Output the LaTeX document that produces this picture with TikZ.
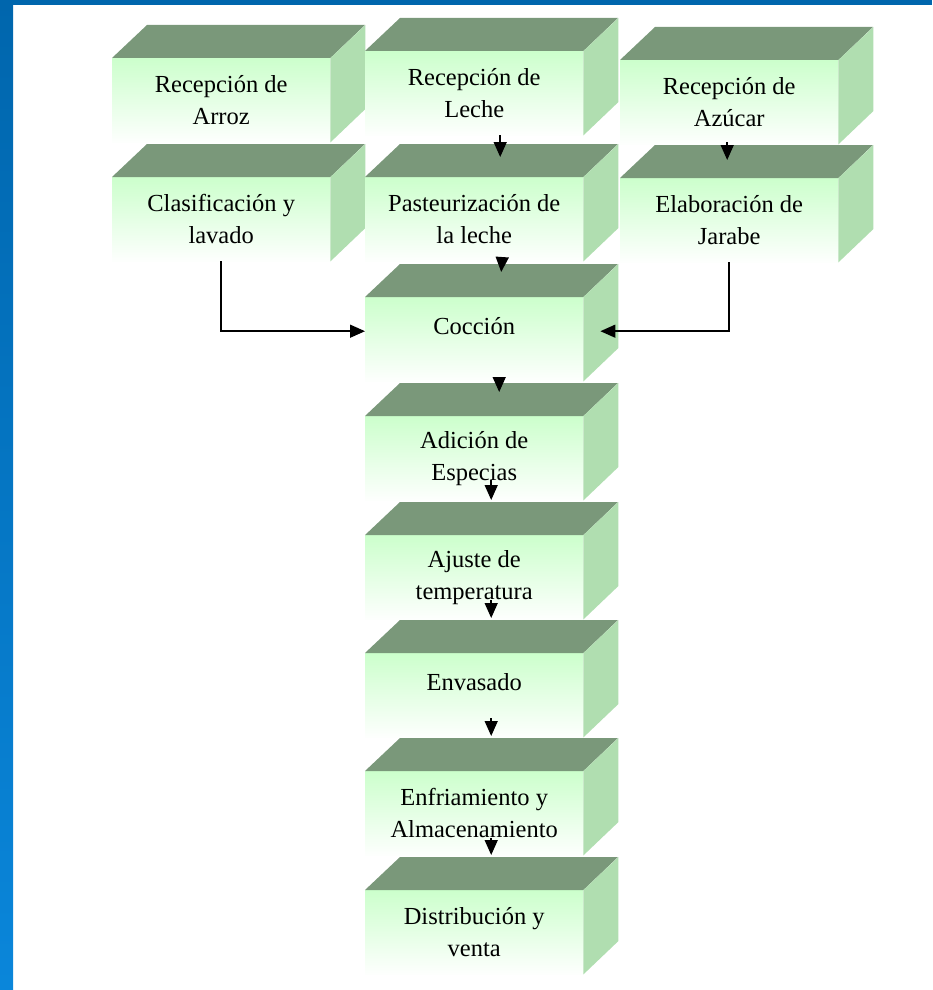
\documentclass[tikz,border=0pt]{standalone}
\usepackage{fontspec}
\setmainfont{Liberation Serif}
\usetikzlibrary{arrows.meta}
\definecolor{marcoazul}{RGB}{0,102,173}
\definecolor{marcoclaro}{RGB}{10,134,218}
\definecolor{techoverde}{RGB}{122,152,122}
\definecolor{ladoverde}{RGB}{176,222,176}
\definecolor{frenteverde}{RGB}{204,255,204}

\tikzset{
  caja/.style={rectangle, anchor=north west, minimum width=218pt, minimum height=84pt,
    inner sep=0pt, top color=frenteverde, bottom color=white!97!frenteverde,
    align=center, font=\fontsize{24.5}{32}\selectfont},
  unalinea/.style={text depth=26pt},
  techo/.style={fill=techoverde},
  lado/.style={fill=ladoverde},
  flecha/.style={line width=1.5pt, -{Triangle[length=15pt,width=13pt]}},
}

% caja en 3D: frente (nodo), techo y lado
\newcommand{\caja}[4][]{%
  \node[caja,#1] (#2) at (#3) {#4};
  \fill[techo] (#2.north west) -- ++(35,-33) -- ++(218,0) -- (#2.north east) -- cycle;
  \fill[lado] (#2.north east) -- ++(35,-33) -- ++(0,84) -- (#2.south east) -- cycle;
}

\begin{document}
\begin{tikzpicture}[x=1pt, y=-1pt]
  \useasboundingbox (0,0) rectangle (932,990);
  % marco azul
  \fill[marcoazul] (0,0) rectangle (932,5);
  \shade[top color=marcoazul, bottom color=marcoclaro] (0,0) rectangle (13,990);
  % recepcion
  \caja{arroz}{112,58}{Recepción de\\Arroz}
  \caja{leche}{365,51}{Recepción de\\Leche}
  \caja{azucar}{620,60}{Recepción de\\Azúcar}
  % preparacion
  \caja{lavado}{112,177}{Clasificación y\\lavado}
  \caja{pasteur}{365,177}{Pasteurización de\\la leche}
  \caja{jarabe}{620,178}{Elaboración de\\Jarabe}
  % proceso
  \caja[unalinea]{coccion}{365,297}{Cocción}
  \caja{especias}{365,416}{Adición de\\Especias}
  \caja{ajuste}{365,535}{Ajuste de\\temperatura}
  \caja[unalinea]{envasado}{365,653}{Envasado}
  \caja{enfriam}{365,771}{Enfriamiento y\\Almacenamiento}
  \caja{distrib}{365,890}{Distribución y\\venta}
  % flechas
  \draw[flecha] ([xshift=26pt]leche.south) -- ([xshift=26pt,yshift=20pt]pasteur.north);
  \draw[flecha] ([xshift=-2pt,yshift=2pt]azucar.south) -- ([xshift=-2pt,yshift=18pt]jarabe.north);
  \draw[flecha] ([xshift=28pt,yshift=4pt]pasteur.south) -- ([xshift=27pt,yshift=25pt]coccion.north);
  \draw[flecha] ([xshift=25pt,yshift=4pt]coccion.south) -- ([xshift=25pt,yshift=24pt]especias.north);
  \draw[flecha] ([xshift=17pt,yshift=20pt]especias.south) -- ([xshift=17pt,yshift=35pt]ajuste.north);
  \draw[flecha] ([xshift=17pt,yshift=19pt]ajuste.south) -- ([xshift=17pt,yshift=35pt]envasado.north);
  \draw[flecha] ([xshift=17pt,yshift=19pt]envasado.south) -- ([xshift=17pt,yshift=35pt]enfriam.north);
  \draw[flecha] ([xshift=17pt,yshift=17pt]enfriam.south) -- ([xshift=17pt,yshift=35pt]distrib.north);
  \draw[flecha] (lavado.south) |- ([yshift=8pt]coccion.west);
  \draw[flecha] (jarabe.south) |- ([xshift=17pt,yshift=8pt]coccion.east);
\end{tikzpicture}
\end{document}
